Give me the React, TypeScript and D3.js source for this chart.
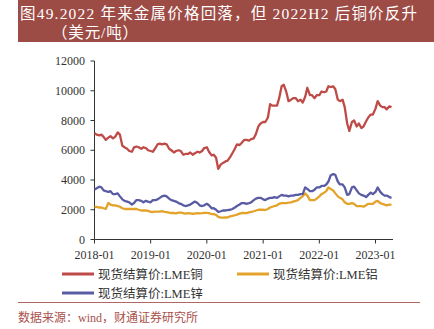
import React from "react";
import * as d3 from "d3";

const months: string[] = [];
for (let y = 2018; y <= 2023; y++) {
  for (let m = 1; m <= 12; m++) {
    if (y === 2023 && m > 4) break;
    months.push(`${y}-${String(m).padStart(2, "0")}`);
  }
}

// two readings per month (1st & 15th)
const copper = [
  7150, 7050, 7000, 7050, 6900, 6700, 6850, 6950, 6800, 6900, 7200, 7050, 6300, 6200, 6100, 5950, 5900, 6200, 6250, 6200, 6100, 6200, 6150, 6000,
  5950, 5900, 6150, 6400, 6450, 6400, 6450, 6400, 6100, 6000, 5850, 5950, 6000, 5950, 5700, 5750, 5750, 5850, 5700, 5800, 5900, 5850, 5950, 6150,
  6200, 5900, 5650, 5700, 5500, 4750, 5050, 5150, 5250, 5300, 5550, 5800, 6100, 6400, 6350, 6500, 6700, 6700, 6650, 6750, 6800, 7100, 7600, 7800,
  7900, 7900, 8200, 9100, 9000, 9000, 9000, 9500, 10300, 10400, 9900, 9300, 9400, 9500, 9500, 9300, 9400, 9200, 9600, 10200, 9700, 9700, 9500, 9700,
  9700, 9950, 9900, 9950, 10300, 10250, 10300, 10100, 9400, 9300, 9400, 8900, 7800, 7300, 7900, 8000, 7600, 7800, 7500, 7600, 7950, 8200, 8400, 8400,
  8800, 9300, 9000, 8900, 8900, 8750, 8950, 8900,
];
const aluminum = [
  2200, 2200, 2150, 2150, 2100, 2050, 2450, 2350, 2300, 2300, 2250, 2200, 2100, 2050, 2050, 2050, 2050, 2050, 2050, 2000, 1950, 1950, 1950, 1930,
  1860, 1850, 1870, 1870, 1880, 1900, 1860, 1840, 1800, 1780, 1780, 1760, 1800, 1810, 1770, 1740, 1770, 1750, 1730, 1740, 1780, 1760, 1770, 1790,
  1790, 1780, 1700, 1700, 1650, 1520, 1470, 1470, 1480, 1490, 1560, 1590, 1630, 1670, 1740, 1780, 1780, 1770, 1820, 1850, 1900, 1950, 2000, 2010,
  2000, 1980, 2050, 2150, 2200, 2250, 2300, 2400, 2450, 2450, 2450, 2480, 2500, 2550, 2600, 2650, 2800, 2900, 3100, 2950, 2650, 2650, 2650, 2750,
  2900, 3050, 3150, 3250, 3500, 3400, 3300, 3100, 2900, 2800, 2700, 2500, 2400, 2400, 2450, 2400, 2250, 2250, 2250, 2200, 2300, 2400, 2400, 2400,
  2550, 2600, 2450, 2400, 2350, 2300, 2350, 2350,
];
const zinc = [
  3350, 3450, 3550, 3500, 3300, 3250, 3200, 3250, 3050, 3050, 3100, 2900, 2700, 2600, 2550, 2500, 2350, 2450, 2650, 2650, 2600, 2500, 2600, 2550,
  2500, 2650, 2650, 2700, 2800, 2900, 2950, 2900, 2750, 2650, 2600, 2550, 2450, 2400, 2300, 2250, 2300, 2350, 2450, 2550, 2450, 2300, 2250, 2300,
  2400, 2300, 2100, 2100, 2000, 1850, 1900, 1950, 1950, 1980, 2000, 2050, 2150, 2250, 2350, 2450, 2450, 2400, 2450, 2500, 2650, 2750, 2800, 2800,
  2700, 2650, 2750, 2800, 2800, 2850, 2800, 2900, 3000, 2950, 2950, 2900, 2950, 2950, 3000, 3000, 3050, 3050, 3500, 3400, 3250, 3250, 3350, 3500,
  3500, 3600, 3600, 3700, 3900, 4300, 4400, 4350, 3900, 3700, 3700, 3500, 3000, 3050, 3500, 3550, 3300, 3100, 3000, 2950, 2850, 3000, 3150, 3050,
  3200, 3500, 3200, 3050, 2950, 2950, 2850, 2800,
];

const yTicks = [0, 2000, 4000, 6000, 8000, 10000, 12000];
const xTickLabels = ["2018-01", "2019-01", "2020-01", "2021-01", "2022-01", "2023-01"];

const seriesNames = ["现货结算价:LME铜", "现货结算价:LME铝", "现货结算价:LME锌"];
const colors = ["#bf4b48", "#e3a32a", "#5a5ca3"];

const parseMonth = d3.utcParse("%Y-%m");
const dates: Date[] = [];
months.forEach((m) => {
  const d0 = parseMonth(m) as Date;
  dates.push(d0);
  dates.push(d3.utcDay.offset(d0, 14));
});

export default function App() {
  const W = 434, H = 329;
  const x = d3
    .scaleUtc()
    .domain([parseMonth("2018-01") as Date, parseMonth("2023-01") as Date])
    .range([94.5, 375.5]);
  const y = d3.scaleLinear().domain([0, 12000]).range([239.5, 61]);
  const line = d3
    .line<number>()
    .x((_, i) => x(dates[i]))
    .y((v) => y(v));
  const serif = "'Liberation Serif', 'Noto Sans CJK SC', serif";
  const seriesData = [copper, aluminum, zinc];
  const axisEnd = 393;

  return (
    <svg width={W} height={H} style={{ position: "absolute", left: 0, top: 0, background: "#fff" }}>
      <rect x={18} y={0} width={416} height={42} fill="#9d4b45" />
      <text x={20} y={19} fill="#fff" fontFamily={serif} fontSize={15.5} textLength={397} lengthAdjust="spacing">
        图49.2022 年来金属价格回落，但 2022H2 后铜价反升
      </text>
      <text x={52} y={38} fill="#fff" fontFamily={serif} fontSize={15.5} textLength={86} lengthAdjust="spacing">
        （美元/吨）
      </text>

      {/* y axis */}
      <line x1={94.5} x2={94.5} y1={61} y2={239.5} stroke="#333" strokeWidth={1} />
      {yTicks.map((t) => (
        <g key={t}>
          <line x1={90.5} x2={94.5} y1={y(t)} y2={y(t)} stroke="#333" />
          <text x={85} y={y(t) + 4} textAnchor="end" fontFamily={serif} fontSize={12} fill="#333">
            {t}
          </text>
        </g>
      ))}
      {/* x axis */}
      <line x1={94.5} x2={axisEnd} y1={239.5} y2={239.5} stroke="#333" />
      {xTickLabels.map((t) => {
        const xx = x(parseMonth(t) as Date);
        return (
          <g key={t}>
            <line x1={xx} x2={xx} y1={239.5} y2={243.5} stroke="#333" />
            <text x={xx} y={259} textAnchor="middle" fontFamily={serif} fontSize={12} fill="#333">
              {t}
            </text>
          </g>
        );
      })}

      {seriesData.map((s, i) => (
        <path key={i} d={line(s) || ""} fill="none" stroke={colors[i]} strokeWidth={2.3} strokeLinejoin="round" />
      ))}

      {/* legend */}
      {[
        { lx: 62, ly: 274, i: 0 },
        { lx: 237, ly: 274, i: 1 },
        { lx: 62, ly: 293, i: 2 },
      ].map(({ lx, ly, i }) => (
        <g key={i}>
          <line x1={lx} x2={lx + 32} y1={ly} y2={ly} stroke={colors[i]} strokeWidth={3} />
          <text x={lx + 36} y={ly + 4.5} fontFamily={serif} fontSize={12.5} fill="#333">
            {seriesNames[i]}
          </text>
        </g>
      ))}

      <line x1={18} x2={420} y1={302.5} y2={302.5} stroke="#b06862" strokeWidth={1} />
      <text x={18} y={322} fontFamily={serif} fontSize={12} fill="#a9514b">
        数据来源：wind，财通证券研究所
      </text>
    </svg>
  );
}
